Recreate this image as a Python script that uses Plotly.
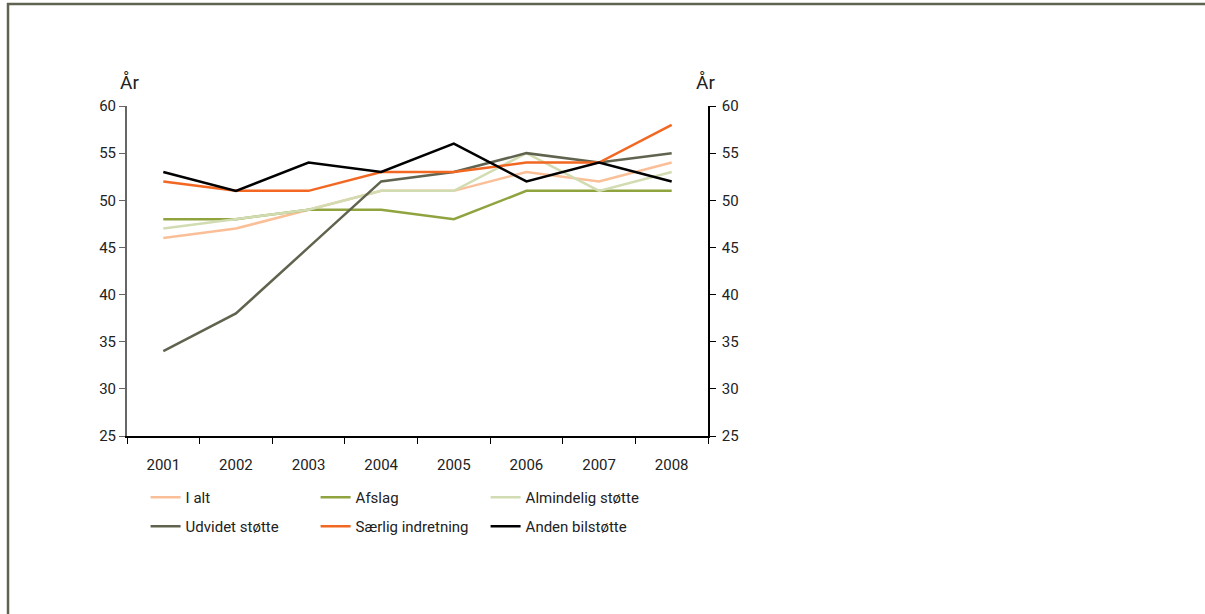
import plotly.graph_objs as go

years = ['2001', '2002', '2003', '2004', '2005', '2006', '2007', '2008']

i_alt = [46, 47, 49, 51, 51, 53, 52, 54]
afslag = [48, 48, 49, 49, 48, 51, 51, 51]
almindelig = [47, 48, 49, 51, 51, 55, 51, 53]
udvidet = [34, 38, 45, 52, 53, 55, 54, 55]
saerlig = [52, 51, 51, 53, 53, 54, 54, 58]
anden = [53, 51, 54, 53, 56, 52, 54, 52]

names = ['I alt', 'Afslag', 'Almindelig støtte',
         'Udvidet støtte', 'Særlig indretning', 'Anden bilstøtte']
colors = ['#fbbf98', '#8fa33f', '#d2dcb2', '#60644f', '#f26722', '#000000']
series = [i_alt, afslag, almindelig, udvidet, saerlig, anden]

FONT = 'Roboto, sans-serif'

data = []
for i, (name, vals, col) in enumerate(zip(names, series, colors)):
    data.append(go.Scatter(
        x=years, y=vals, mode='lines', name=name,
        line=dict(color=col, width=2.5),
        legend='legend' if i < 3 else 'legend2'
    ))

# dummy trace so the right-hand axis gets drawn
data.append(go.Scatter(x=years, y=anden, yaxis='y2', mode='lines',
                       line=dict(width=0), opacity=0, showlegend=False,
                       hoverinfo='skip'))

legend_style = dict(orientation='h', x=0.032, xanchor='left', yanchor='top',
                    entrywidth=125, entrywidthmode='pixels',
                    font=dict(family=FONT, size=15, color='#222'),
                    bgcolor='rgba(0,0,0,0)', traceorder='normal')

layout = go.Layout(
    width=1205, height=614,
    margin=dict(l=127, r=497, t=106, b=178),
    paper_bgcolor='white', plot_bgcolor='white',
    font=dict(family=FONT, size=15, color='#222'),
    showlegend=True,
    xaxis=dict(type='category', range=[-0.5, 7.5], tickson='boundaries',
               ticks='outside', ticklen=6, tickcolor='#000', showline=True,
               linecolor='#000', linewidth=1.5, showgrid=False,
               zeroline=False, ticklabelstandoff=14),
    yaxis=dict(range=[25, 60], dtick=5, ticks='outside', ticklen=6,
               tickcolor='#666', showline=True, linecolor='#666', linewidth=2,
               showgrid=False, zeroline=False),
    yaxis2=dict(range=[25, 60], dtick=5, overlaying='y', side='right',
                ticks='outside', ticklen=6, tickcolor='#000', showline=True,
                linecolor='#000', linewidth=1.5, showgrid=False,
                zeroline=False, ticklabelstandoff=3),
    legend=dict(legend_style, y=-0.136),
    legend2=dict(legend_style, y=-0.224),
    annotations=[
        dict(text='År', xref='paper', yref='paper', x=0, y=1.0, yshift=24,
             xshift=-9, yanchor='middle', showarrow=False,
             font=dict(size=19, color='#222')),
        dict(text='År', xref='paper', yref='paper', x=1, y=1.0, yshift=24,
             xshift=9, yanchor='middle', showarrow=False,
             font=dict(size=19, color='#222')),
    ],
    shapes=[dict(type='rect', xref='paper', yref='paper',
                 x0=-0.2048, x1=1.87, y0=-0.6, y1=1.309,
                 line=dict(color='#5e6450', width=2.5), layer='below')],
)

fig = go.Figure(data=data, layout=layout)
fig.write_html("out.html", config={'displayModeBar': False},
               post_script="document.body.style.margin='0px';")
